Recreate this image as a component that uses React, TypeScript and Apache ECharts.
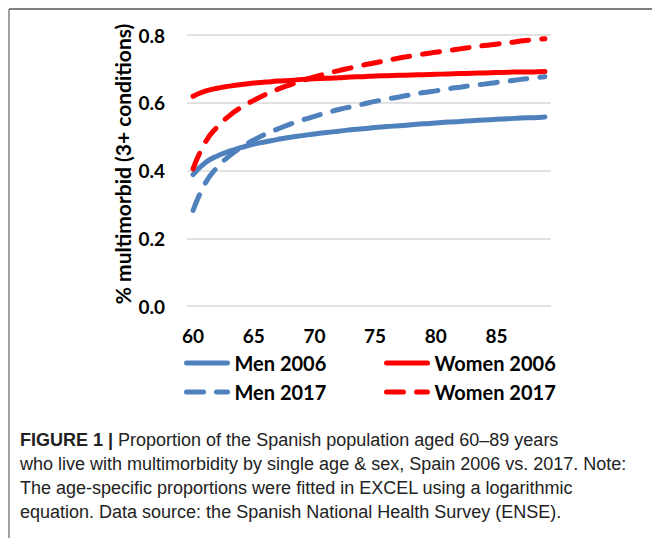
import React, { useEffect, useRef } from "react";
import * as echarts from "echarts";

const ages = [
  "60", "61", "62", "63", "64", "65", "66", "67", "68", "69",
  "70", "71", "72", "73", "74", "75", "76", "77", "78", "79",
  "80", "81", "82", "83", "84", "85", "86", "87", "88", "89",
];

const men2006 = [
  0.388, 0.423, 0.443, 0.457, 0.468, 0.478, 0.485, 0.492, 0.498, 0.503,
  0.508, 0.512, 0.516, 0.520, 0.523, 0.527, 0.530, 0.532, 0.535, 0.538,
  0.540, 0.543, 0.545, 0.547, 0.549, 0.551, 0.553, 0.555, 0.556, 0.558,
];

const men2017 = [
  0.282, 0.362, 0.410, 0.443, 0.469, 0.490, 0.508, 0.523, 0.537, 0.549,
  0.560, 0.570, 0.580, 0.588, 0.596, 0.604, 0.611, 0.617, 0.624, 0.630,
  0.635, 0.641, 0.646, 0.651, 0.655, 0.660, 0.664, 0.669, 0.673, 0.677,
];

const women2006 = [
  0.619, 0.634, 0.643, 0.649, 0.654, 0.658, 0.661, 0.664, 0.666, 0.669,
  0.671, 0.672, 0.674, 0.676, 0.677, 0.679, 0.680, 0.681, 0.682, 0.683,
  0.684, 0.685, 0.686, 0.687, 0.688, 0.689, 0.690, 0.691, 0.691, 0.692,
];

const women2017 = [
  0.405, 0.483, 0.529, 0.562, 0.587, 0.607, 0.625, 0.640, 0.653, 0.665,
  0.676, 0.686, 0.695, 0.703, 0.711, 0.718, 0.725, 0.732, 0.738, 0.744,
  0.749, 0.754, 0.759, 0.764, 0.769, 0.773, 0.777, 0.782, 0.786, 0.789,
];

const yAxisTitle = "% multimorbid (3+ conditions)";
const captionLines = [
  "{b|FIGURE 1 |} Proportion of the Spanish population aged 60–89 years",
  "who live with multimorbidity by single age & sex, Spain 2006 vs. 2017. Note:",
  "The age-specific proportions were fitted in EXCEL using a logarithmic",
  "equation. Data source: the Spanish National Health Survey (ENSE).",
];

const BLUE = "#4f81bd";
const RED = "#ff0000";
const FONT = "Lato, 'Open Sans', sans-serif";
const CAP_FONT = "'Liberation Sans', Arial, sans-serif";
const DASH = [17, 13];

export default function App() {
  const ref = useRef<HTMLDivElement>(null);
  useEffect(() => {
    if (!ref.current) return;
    const chart = echarts.init(ref.current, null, { renderer: "svg" });
    const mk = (name: string, data: number[], color: string, dashed: boolean) => ({
      name,
      type: "line",
      data,
      symbol: "none",
      smooth: true,
      lineStyle: {
        color,
        width: 5,
        type: dashed ? DASH : "solid",
        cap: "round",
      },
      itemStyle: { color },
    });
    const legendBase = {
      orient: "vertical",
      itemWidth: 41,
      itemHeight: 10,
      itemGap: 9,
      itemStyle: { opacity: 0 },
      lineStyle: { width: 5, cap: "round" },
      textStyle: {
        fontFamily: FONT,
        fontWeight: "bold",
        fontSize: 20,
        color: "#000",
        lineHeight: 20,
        padding: [0, 0, 0, 2],
      },
    };
    chart.setOption({
      animation: false,
      backgroundColor: "#fff",
      grid: { left: 187, right: 101, top: 35, bottom: 232 },
      xAxis: {
        type: "category",
        data: ages,
        boundaryGap: true,
        axisLine: { show: false },
        axisTick: { show: false },
        axisLabel: {
          interval: 4,
          margin: 20,
          fontFamily: FONT,
          fontWeight: "bold",
          fontSize: 19,
          color: "#000",
        },
      },
      yAxis: {
        type: "value",
        min: 0,
        max: 0.8,
        interval: 0.2,
        axisLine: { show: false },
        axisTick: { show: false },
        splitLine: { lineStyle: { color: "#d9d9d9", width: 1.5 } },
        axisLabel: {
          margin: 22,
          fontFamily: FONT,
          fontWeight: "bold",
          fontSize: 19,
          color: "#000",
          formatter: (v: number) => v.toFixed(1),
        },
      },
      legend: [
        { ...legendBase, left: 179, top: 348, data: ["Men 2006", "Men 2017"] },
        { ...legendBase, left: 379, top: 348, data: ["Women 2006", "Women 2017"] },
      ],
      series: [
        mk("Men 2006", men2006, BLUE, false),
        mk("Women 2006", women2006, RED, false),
        mk("Men 2017", men2017, BLUE, true),
        mk("Women 2017", women2017, RED, true),
      ],
      graphic: [
        {
          type: "line",
          shape: { x1: 9, y1: 9, x2: 652, y2: 9 },
          style: { stroke: "#808080", lineWidth: 2 },
        },
        {
          type: "line",
          shape: { x1: 9, y1: 9, x2: 9, y2: 538 },
          style: { stroke: "#808080", lineWidth: 1.5 },
        },
        {
          type: "text",
          x: 122,
          y: 164,
          rotation: Math.PI / 2,
          style: {
            text: yAxisTitle,
            fontFamily: FONT,
            fontWeight: "bold",
            fontSize: 21,
            fill: "#000",
            align: "center",
            verticalAlign: "middle",
          },
        },
        {
          type: "text",
          left: 20,
          top: 428,
          style: {
            text: captionLines.join("\n"),
            fontFamily: CAP_FONT,
            fontSize: 18,
            lineHeight: 24,
            fill: "#222",
            rich: {
              b: {
                fontFamily: CAP_FONT,
                fontWeight: "bold",
                fontSize: 18,
                lineHeight: 24,
                fill: "#222",
              },
            },
          },
        },
      ],
    });
    return () => chart.dispose();
  }, []);
  return (
    <div
      ref={ref}
      style={{ position: "fixed", left: 0, top: 0, width: 652, height: 538 }}
    />
  );
}
